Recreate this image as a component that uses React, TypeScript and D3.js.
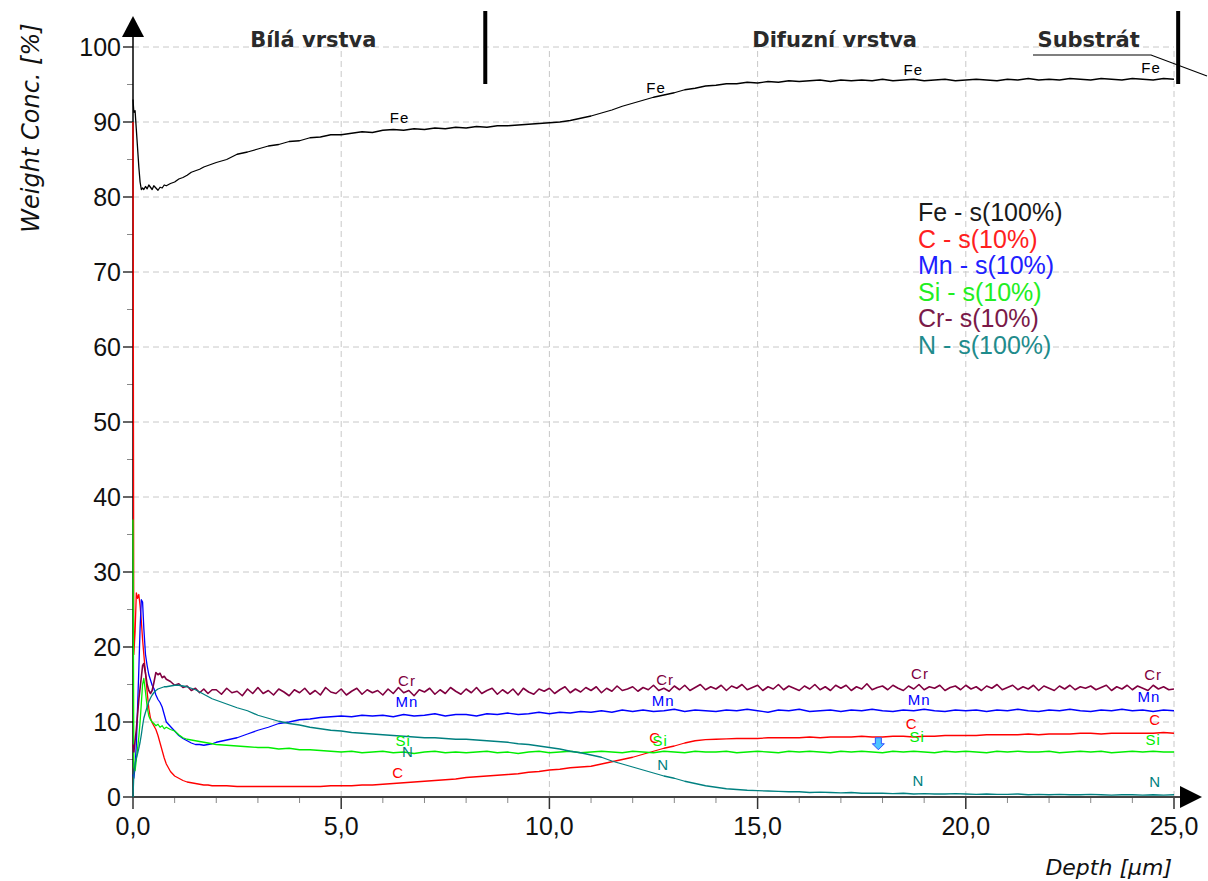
import React from "react";
import * as d3 from "d3";

// Sampling depths (µm): dense near the surface, then a regular grid
const depthEarly = [
  0, 0.02, 0.05, 0.08, 0.11,
  0.14, 0.17, 0.2, 0.23, 0.26,
  0.3, 0.34, 0.38, 0.42, 0.46,
  0.5, 0.55, 0.6, 0.65, 0.7,
  0.75, 0.8, 0.9, 1.0, 1.1,
  1.2, 1.3, 1.4, 1.5, 1.6,
  1.7, 1.8, 1.9,
];
const depthMain = d3.range(2, 25.001, 0.25);
const depthFine = d3.range(2, 25.001, 0.125);

// Weight concentration profiles [%]
const feEarly = [
  93.0, 91.3, 91.5, 89.0, 86.5,
  84.0, 82.0, 81.0, 81.2, 81.0,
  81.4, 81.1, 81.6, 81.3, 81.0,
  81.5, 81.2, 80.9, 81.3, 81.2,
  81.6, 81.5, 81.8, 82.0, 82.4,
  82.6, 82.9, 83.3, 83.5, 83.7,
  84.0, 84.2, 84.4,
];
const feMain = [
  84.6, 85.0, 85.7, 86.0, // 2
  86.4, 86.8, 87.0, 87.4, // 3
  87.5, 87.9, 88.0, 88.3, // 4
  88.3, 88.5, 88.7, 88.6, // 5
  88.9, 89.0, 88.9, 89.1, // 6
  89.0, 89.2, 89.1, 89.3, // 7
  89.2, 89.4, 89.3, 89.5, // 8
  89.5, 89.6, 89.7, 89.8, // 9
  89.9, 90.0, 90.2, 90.5, // 10
  90.8, 91.2, 91.6, 92.1, // 11
  92.5, 92.9, 93.3, 93.6, // 12
  93.9, 94.3, 94.5, 94.8, // 13
  94.9, 95.1, 95.1, 95.3, // 14
  95.2, 95.4, 95.3, 95.5, // 15
  95.4, 95.5, 95.6, 95.4, // 16
  95.6, 95.5, 95.6, 95.5, // 17
  95.7, 95.5, 95.6, 95.7, // 18
  95.5, 95.6, 95.7, 95.5, // 19
  95.6, 95.7, 95.6, 95.5, // 20
  95.7, 95.6, 95.8, 95.6, // 21
  95.7, 95.6, 95.8, 95.7, // 22
  95.6, 95.8, 95.7, 95.6, // 23
  95.8, 95.7, 95.6, 95.8, // 24
  95.7, // 25
];

const cEarly = [
  90.0, 19.0, 22.0, 27.2, 26.5,
  27.0, 25.5, 23.5, 21.0, 19.0,
  16.5, 14.0, 11.8, 10.5, 9.9,
  9.5, 9.0, 8.2, 7.2, 6.2,
  5.2, 4.4, 3.4, 2.8, 2.5,
  2.2, 2.0, 1.9, 1.8, 1.7,
  1.6, 1.6, 1.5,
];
const cMain = [
  1.5, 1.5, 1.4, 1.4, // 2
  1.4, 1.4, 1.4, 1.4, // 3
  1.4, 1.4, 1.4, 1.5, // 4
  1.5, 1.5, 1.6, 1.6, // 5
  1.7, 1.8, 1.9, 2.0, // 6
  2.1, 2.2, 2.3, 2.4, // 7
  2.6, 2.7, 2.8, 2.9, // 8
  3.0, 3.1, 3.3, 3.4, // 9
  3.6, 3.7, 3.9, 4.0, // 10
  4.1, 4.4, 4.7, 5.0, // 11
  5.3, 5.7, 6.1, 6.5, // 12
  6.8, 7.2, 7.5, 7.65, // 13
  7.7, 7.75, 7.8, 7.8, // 14
  7.8, 7.9, 7.9, 7.9, // 15
  7.9, 8.0, 7.9, 8.0, // 16
  8.0, 8.0, 8.1, 8.0, // 17
  8.0, 8.1, 8.1, 8.0, // 18
  8.1, 8.1, 8.2, 8.2, // 19
  8.2, 8.2, 8.3, 8.3, // 20
  8.3, 8.3, 8.4, 8.3, // 21
  8.4, 8.4, 8.4, 8.5, // 22
  8.5, 8.4, 8.5, 8.5, // 23
  8.5, 8.5, 8.5, 8.6, // 24
  8.5, // 25
];

const mnEarly = [
  3.0, 2.5, 4.0, 7.0, 12.0,
  17.0, 22.5, 26.3, 26.0, 22.5,
  19.0, 17.5, 16.3, 15.6, 14.9,
  14.5, 13.6, 13.0, 12.6, 12.0,
  11.0, 10.0, 9.4, 8.8, 8.2,
  7.8, 7.5, 7.2, 7.0, 7.0,
  6.9, 7.0, 7.1,
];
const mnMain = [
  7.3, 7.6, 7.9, 8.4, // 2
  8.9, 9.3, 9.8, 10.0, // 3
  10.3, 10.4, 10.6, 10.7, // 4
  10.8, 10.7, 10.9, 10.8, // 5
  10.9, 10.7, 11.0, 10.8, // 6
  10.9, 11.1, 10.8, 11.0, // 7
  11.0, 10.8, 11.1, 11.0, // 8
  11.2, 11.0, 11.1, 11.3, // 9
  11.1, 11.3, 11.2, 11.4, // 10
  11.3, 11.5, 11.3, 11.6, // 11
  11.4, 11.6, 11.4, 11.5, // 12
  11.7, 11.4, 11.6, 11.5, // 13
  11.4, 11.6, 11.5, 11.7, // 14
  11.5, 11.3, 11.6, 11.5, // 15
  11.7, 11.4, 11.5, 11.6, // 16
  11.4, 11.6, 11.5, 11.7, // 17
  11.5, 11.4, 11.6, 11.5, // 18
  11.7, 11.5, 11.4, 11.6, // 19
  11.5, 11.6, 11.4, 11.6, // 20
  11.5, 11.7, 11.5, 11.4, // 21
  11.6, 11.5, 11.7, 11.5, // 22
  11.4, 11.6, 11.5, 11.7, // 23
  11.5, 11.6, 11.4, 11.6, // 24
  11.5, // 25
];

const siEarly = [
  37.0, 4.0, 3.5, 5.0, 6.5,
  8.0, 10.0, 12.5, 15.0, 15.8,
  14.0, 12.0, 10.8, 10.3, 10.0,
  9.8, 9.5, 9.7, 9.3, 9.5,
  9.1, 9.3, 9.0, 8.8, 8.3,
  7.9, 7.7, 7.6, 7.5, 7.4,
  7.3, 7.2, 7.1,
];
const siMain = [
  7.0, 6.9, 6.8, 6.7, // 2
  6.6, 6.6, 6.4, 6.5, // 3
  6.3, 6.3, 6.2, 6.1, // 4
  6.0, 6.1, 5.9, 6.0, // 5
  6.1, 5.9, 6.0, 5.8, // 6
  6.0, 6.1, 5.9, 6.0, // 7
  5.9, 6.0, 6.1, 5.9, // 8
  6.0, 5.8, 6.0, 6.1, // 9
  5.9, 6.0, 6.1, 5.9, // 10
  6.0, 6.1, 6.0, 5.9, // 11
  6.1, 6.0, 5.9, 6.1, // 12
  6.0, 5.9, 6.1, 6.0, // 13
  6.0, 6.1, 5.9, 6.0, // 14
  6.1, 6.0, 5.9, 6.1, // 15
  6.0, 6.1, 6.0, 5.9, // 16
  6.1, 6.0, 6.1, 6.0, // 17
  5.9, 6.1, 6.0, 6.1, // 18
  6.0, 5.9, 6.1, 6.0, // 19
  6.1, 6.0, 5.9, 6.1, // 20
  6.0, 6.1, 6.0, 6.0, // 21
  6.1, 5.9, 6.0, 6.1, // 22
  6.0, 6.1, 5.9, 6.0, // 23
  6.1, 6.0, 6.1, 6.0, // 24
  6.0, // 25
];

const crEarly = [
  7.0, 6.0, 7.5, 9.0, 11.0,
  13.0, 14.5, 16.0, 17.5, 17.8,
  16.5, 15.0, 14.2, 13.8, 14.2,
  15.2, 16.6, 16.3, 16.5, 15.9,
  16.1, 15.7, 15.4, 14.9, 15.1,
  14.6, 14.8, 14.2, 14.5, 13.9,
  14.4, 13.8, 14.3,
];
// Cr is sampled every 0.125 µm beyond 2 µm
const crMain = [
  14.3, 13.7, 14.5, 13.9, 14.1, 13.5, 14.4, 13.8, // 2
  14.6, 13.8, 14.2, 13.6, 14.4, 14.0, 13.5, 14.3, // 3
  13.9, 14.5, 13.7, 14.2, 13.6, 14.6, 14.0, 13.8, // 4
  14.4, 13.6, 14.1, 14.5, 13.7, 14.3, 13.9, 14.2, // 5
  13.6, 14.4, 13.8, 14.6, 13.9, 14.2, 13.5, 14.3, // 6
  14.0, 14.5, 13.7, 14.3, 13.8, 14.6, 14.1, 13.7, // 7
  14.4, 13.9, 14.6, 13.8, 14.2, 14.5, 13.7, 14.3, // 8
  13.8, 14.4, 13.6, 14.5, 14.0, 13.7, 14.4, 14.1, // 9
  14.5, 13.8, 14.3, 14.7, 13.9, 14.4, 14.0, 14.6, // 10
  14.2, 14.7, 13.9, 14.5, 14.1, 14.8, 14.2, 14.4, // 11
  14.7, 14.1, 14.6, 14.3, 14.9, 14.2, 14.5, 14.1, // 12
  14.8, 14.3, 14.9, 14.2, 14.6, 15.0, 14.3, 14.7, // 13
  14.4, 14.9, 14.2, 14.8, 14.5, 15.0, 14.3, 14.6, // 14
  14.9, 14.2, 14.7, 14.4, 15.0, 14.3, 14.8, 14.5, // 15
  14.2, 14.8, 14.4, 15.0, 14.3, 14.7, 14.2, 14.9, // 16
  14.5, 14.9, 14.2, 14.7, 14.4, 15.1, 14.3, 14.6, // 17
  14.8, 14.3, 14.9, 14.5, 14.2, 14.8, 14.4, 15.0, // 18
  14.3, 14.7, 14.5, 14.9, 14.2, 14.6, 14.8, 14.3, // 19
  14.9, 14.4, 14.7, 14.2, 14.8, 14.5, 15.0, 14.3, // 20
  14.6, 14.9, 14.3, 14.7, 14.4, 14.9, 14.2, 14.8, // 21
  14.5, 14.2, 14.8, 14.4, 14.9, 14.3, 14.7, 14.5, // 22
  14.8, 14.3, 14.6, 14.9, 14.2, 14.7, 14.4, 14.9, // 23
  14.3, 14.8, 14.5, 14.2, 14.9, 14.4, 14.7, 14.3, // 24
  14.4, // 25
];

const nEarly = [
  0.0, 3.0, 4.5, 5.2, 5.8,
  6.5, 7.3, 8.3, 9.5, 10.5,
  11.3, 12.0, 12.7, 13.2, 13.6,
  13.9, 14.2, 14.4, 14.5, 14.6,
  14.7, 14.7, 14.8, 14.9, 14.9,
  14.8, 14.7, 14.5, 14.3, 14.0,
  13.7, 13.4, 13.1,
];
const nMain = [
  12.9, 12.4, 11.9, 11.5, // 2
  10.9, 10.5, 10.1, 9.8, // 3
  9.6, 9.3, 9.1, 8.9, // 4
  8.8, 8.6, 8.5, 8.4, // 5
  8.3, 8.2, 8.1, 8.0, // 6
  7.9, 7.9, 7.8, 7.7, // 7
  7.7, 7.6, 7.5, 7.4, // 8
  7.3, 7.1, 7.0, 6.8, // 9
  6.6, 6.4, 6.1, 5.9, // 10
  5.6, 5.3, 4.8, 4.4, // 11
  4.0, 3.6, 3.2, 2.8, // 12
  2.5, 2.1, 1.8, 1.5, // 13
  1.3, 1.1, 1.0, 0.9, // 14
  0.85, 0.8, 0.75, 0.7, // 15
  0.7, 0.6, 0.65, 0.6, // 16
  0.55, 0.6, 0.5, 0.5, // 17
  0.5, 0.45, 0.5, 0.4, // 18
  0.45, 0.4, 0.4, 0.45, // 19
  0.4, 0.35, 0.4, 0.35, // 20
  0.35, 0.4, 0.3, 0.35, // 21
  0.3, 0.35, 0.3, 0.3, // 22
  0.35, 0.3, 0.25, 0.3, // 23
  0.3, 0.25, 0.3, 0.25, // 24
  0.3, // 25
];

const elements = ["Fe", "C", "Mn", "Si", "Cr", "N"];
const elementColors = ["#000000", "#ff0000", "#0000ff", "#00ee00", "#800040", "#008080"];
const legendLabels = ["Fe - s(100%)", "C - s(10%)", "Mn - s(10%)", "Si - s(10%)", "Cr- s(10%)", "N - s(100%)"];
const legendColors = ["#1a1a1a", "#ff2020", "#2020ff", "#22ee22", "#7a1a48", "#1f8c8c"];

// In-line element tags: [depth, concentration]
const feTags = [[6.4, 90.5], [12.56, 94.5], [18.74, 96.9], [24.45, 97.2]];
const cTags = [[6.37, 3.2], [12.54, 7.9], [18.7, 9.7], [24.55, 10.3]];
const mnTags = [[6.58, 12.7], [12.73, 12.8], [18.88, 12.9], [24.4, 13.3]];
const siTags = [[6.49, 7.5], [12.66, 7.5], [18.83, 8.0], [24.5, 7.6]];
const crTags = [[6.58, 15.5], [12.78, 15.6], [18.9, 16.4], [24.5, 16.3]];
const nTags = [[6.6, 6.0], [12.73, 4.3], [18.86, 2.1], [24.55, 2.0]];

const xTicks = [0, 5, 10, 15, 20, 25];
const yTicks = [0, 10, 20, 30, 40, 50, 60, 70, 80, 90, 100];
const layerNames = ["Bílá vrstva", "Difuzní vrstva", "Substrát"];
const layerLabelDepths = [4.33, 16.85, 22.95];
const layerBoundaries = [8.46, 25.1];
const markerPoint = [17.9, 6.3];

const series = [
  { depths: depthEarly.concat(depthMain), values: feEarly.concat(feMain) },
  { depths: depthEarly.concat(depthMain), values: cEarly.concat(cMain) },
  { depths: depthEarly.concat(depthMain), values: mnEarly.concat(mnMain) },
  { depths: depthEarly.concat(depthMain), values: siEarly.concat(siMain) },
  { depths: depthEarly.concat(depthFine), values: crEarly.concat(crMain) },
  { depths: depthEarly.concat(depthMain), values: nEarly.concat(nMain) },
];
const seriesTags = [feTags, cTags, mnTags, siTags, crTags, nTags];

const czLocale = d3.formatLocale({ decimal: ",", thousands: " ", grouping: [3], currency: ["", " Kč"] });
const fmt = czLocale.format(".1f");

const SANS = "'Liberation Sans', Arial, sans-serif";
const DEJAVU = "'DejaVu Sans', Verdana, sans-serif";

export default function App() {
  const W = 1208;
  const H = 881;
  const x = d3.scaleLinear().domain([0, 25]).range([133, 1174]);
  const y = d3.scaleLinear().domain([0, 100]).range([797, 47]);

  const x0 = x(0);
  const y0 = y(0);

  const xMinor = d3.range(1, 25).filter((d) => d % 5 !== 0);
  const yMinor = d3.range(5, 100, 10);

  const makeLine = (depths: number[], vals: number[]) => {
    const n = Math.min(depths.length, vals.length);
    const pts: [number, number][] = d3.range(n).map((i) => [depths[i], vals[i]]);
    return (
      d3
        .line<[number, number]>()
        .x((p) => x(p[0]))
        .y((p) => y(p[1]))(pts) || ""
    );
  };

  const mx = x(markerPoint[0]);
  const my = y(markerPoint[1]);

  return (
    <svg
      width={W}
      height={H}
      viewBox={`0 0 ${W} ${H}`}
      style={{ position: "absolute", left: 0, top: 0, background: "#fff" }}
    >
      <rect x={0} y={0} width={W} height={H} fill="#fff" />

      {/* grid */}
      <g stroke="#c8c8c8" strokeWidth={1} strokeDasharray="6,4">
        {yTicks.filter((t) => t > 0).map((t) => (
          <line key={"gy" + t} x1={x0} x2={x(25)} y1={y(t)} y2={y(t)} />
        ))}
        {xTicks.filter((t) => t > 0).map((t) => (
          <line key={"gx" + t} x1={x(t)} x2={x(t)} y1={y0} y2={y(100)} />
        ))}
      </g>

      {/* axis lines, ticks and arrows */}
      <g>
        {yMinor.map((t) => (
          <line key={"ym" + t} x1={x0 - 6} x2={x0} y1={y(t)} y2={y(t)} stroke="#888" strokeWidth={1} />
        ))}
        {yTicks.map((t) => (
          <line key={"yt" + t} x1={x0 - 10} x2={x0} y1={y(t)} y2={y(t)} stroke="#333" strokeWidth={1.5} />
        ))}
        <line x1={x0} x2={x0} y1={y0} y2={30} stroke="#000" strokeWidth={1.5} />
        <path d={`M${x0},16 L${x0 + 11},37 L${x0 - 11},37 Z`} fill="#000" />

        {xMinor.map((t) => (
          <line key={"xm" + t} x1={x(t)} x2={x(t)} y1={y0} y2={y0 + 6} stroke="#888" strokeWidth={1} />
        ))}
        {xTicks.map((t) => (
          <line key={"xt" + t} x1={x(t)} x2={x(t)} y1={y0} y2={y0 + 12} stroke="#333" strokeWidth={1.5} />
        ))}
        <line x1={x0} x2={1186} y1={y0} y2={y0} stroke="#444" strokeWidth={2} />
        <path d={`M1202,${y0} L1180,${y0 - 11} L1180,${y0 + 11} Z`} fill="#000" />
      </g>

      {/* profiles */}
      <g fill="none" strokeLinejoin="round">
        {series.map((s, k) => (
          <path
            key={elements[k]}
            d={makeLine(s.depths, s.values)}
            stroke={elementColors[k]}
            strokeWidth={elements[k] === "Cr" ? 1.6 : 1.3}
          />
        ))}
      </g>

      {/* element tags along the curves */}
      <g fontFamily={SANS} fontSize={15} textAnchor="middle" letterSpacing={1}>
        {seriesTags.map((tags, k) =>
          tags.map((t, j) => (
            <text key={elements[k] + j} x={x(t[0])} y={y(t[1]) + 5} fill={elementColors[k]}>
              {elements[k]}
            </text>
          ))
        )}
      </g>

      {/* small marker */}
      <path
        d={`M${mx - 3},${my - 12} L${mx + 3},${my - 12} L${mx + 3},${my - 6} L${mx + 6},${my - 6} L${mx},${my} L${mx - 6},${my - 6} L${mx - 3},${my - 6} Z`}
        fill="#4cc4ff"
        stroke="#3050ff"
        strokeWidth={1}
      />

      {/* axis labels */}
      <g fontFamily={SANS} fontSize={25} textAnchor="end" fill="#111">
        {yTicks.map((t) => (
          <text key={"yl" + t} x={x0 - 12} y={y(t) + 9}>
            {t}
          </text>
        ))}
      </g>
      <g fontFamily={SANS} fontSize={25} textAnchor="middle" fill="#111">
        {xTicks.map((t) => (
          <text key={"xl" + t} x={x(t)} y={835}>
            {fmt(t)}
          </text>
        ))}
      </g>
      <text
        transform={`translate(39,128) rotate(-90)`}
        textAnchor="middle"
        fontFamily={DEJAVU}
        fontStyle="italic"
        fontSize={24}
        fill="#111"
      >
        Weight Conc. [%]
      </text>
      <text x={1172} y={875} textAnchor="end" fontFamily={DEJAVU} fontStyle="italic" fontSize={22} fill="#111">
        Depth [µm]
      </text>

      {/* layer annotations */}
      <g fontFamily={DEJAVU} fontWeight="bold" fontSize={21} textAnchor="middle" fill="#2a2a2a">
        {layerNames.map((n, i) => (
          <text key={n} x={x(layerLabelDepths[i])} y={47}>
            {n}
          </text>
        ))}
      </g>
      {layerBoundaries.map((d) => (
        <rect key={"b" + d} x={x(d) - 2} y={11} width={4} height={73} fill="#000" />
      ))}
      <polyline points="1033,55 1151,55 1207,76" fill="none" stroke="#000" strokeWidth={1.2} />

      {/* legend */}
      <g fontFamily={SANS} fontSize={25}>
        {legendLabels.map((l, i) => (
          <text key={l} x={918} y={221 + i * 26.6} fill={legendColors[i]}>
            {l}
          </text>
        ))}
      </g>
    </svg>
  );
}
